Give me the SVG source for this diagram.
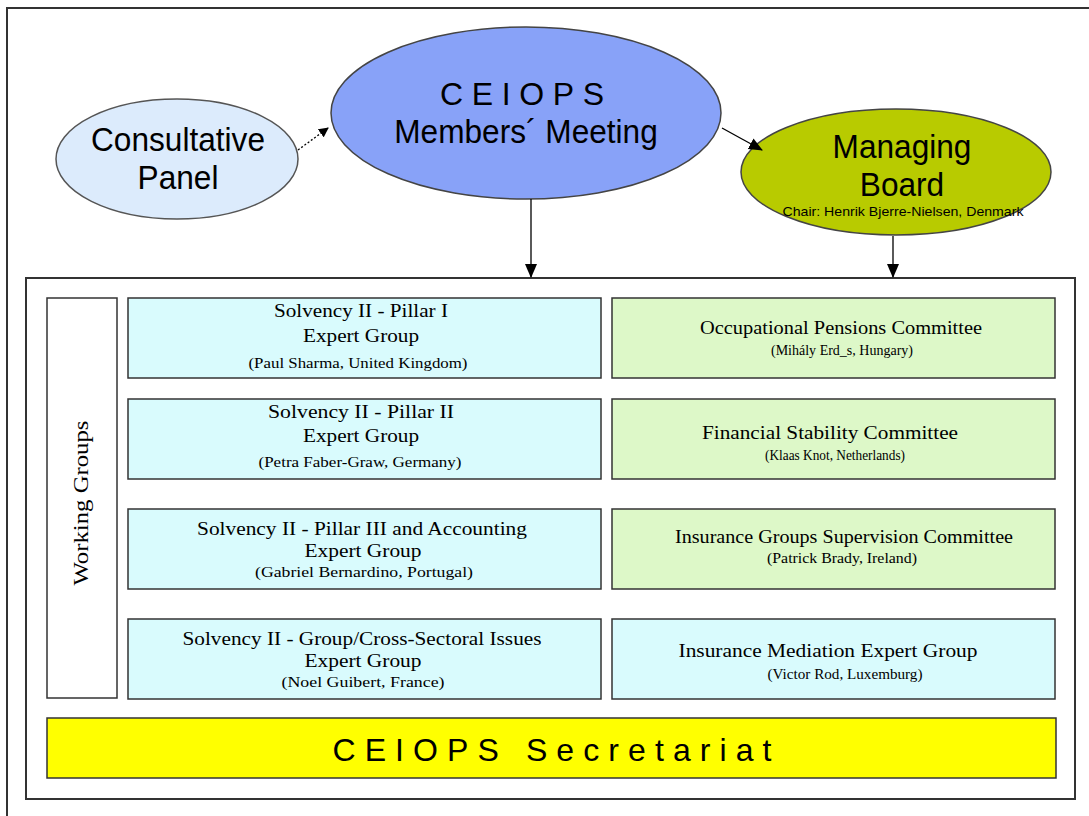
<svg xmlns="http://www.w3.org/2000/svg" width="1089" height="816" viewBox="0 0 1089 816">
<style>
.frame{fill:none;stroke:#333;stroke-width:2}
.box{stroke:#333;stroke-width:1.5}
.blue{fill:#d9fbfd}
.green{fill:#ddf8c8}
.sans{font-family:"Liberation Sans",Arial,sans-serif;fill:#000}
.serif{font-family:"Liberation Serif","Times New Roman",serif;fill:#000;text-anchor:middle}
.t1{font-size:19px}
.t2{font-size:15px}
.conn{stroke:#000;stroke-width:1.3;fill:none}
</style>
<defs>
<marker id="ah" markerWidth="10" markerHeight="10" refX="9" refY="5" orient="auto" markerUnits="userSpaceOnUse">
<path d="M0,0 L10,5 L0,10 z" fill="#000"/>
</marker>
<marker id="ah2" markerWidth="14" markerHeight="14" refX="13" refY="7" orient="auto" markerUnits="userSpaceOnUse">
<path d="M0,1 L14,7 L0,13 z" fill="#000"/>
</marker>
</defs>
<rect width="1089" height="816" fill="#fff"/>
<path class="frame" d="M7,818 V8 H1091"/>
<rect class="frame" x="26" y="278" width="1049" height="521"/>

<g id="consultative">
<ellipse cx="177" cy="159" rx="121" ry="60" fill="#dcebfc" stroke="#555" stroke-width="1.5"/>
<text class="sans" x="178" y="151" font-size="34" text-anchor="middle" transform="translate(178 0) scale(0.93 1) translate(-178 0)">Consultative</text>
<text class="sans" x="178" y="189" font-size="34" text-anchor="middle" transform="translate(178 0) scale(0.93 1) translate(-178 0)">Panel</text>
</g>

<g id="members">
<ellipse cx="526" cy="113" rx="195" ry="86" fill="#88a2f8" stroke="#444" stroke-width="1.5"/>
<text class="sans" x="522" y="105" font-size="32" text-anchor="middle" textLength="164" lengthAdjust="spacing">CEIOPS</text>
<text class="sans" x="526" y="143" font-size="34" text-anchor="middle" transform="translate(526 0) scale(0.93 1) translate(-526 0)">Members´ Meeting</text>
</g>

<g id="managing">
<ellipse cx="896" cy="172" rx="155" ry="63" fill="#b8cb00" stroke="#444" stroke-width="1.5"/>
<text class="sans" x="902" y="158" font-size="34" text-anchor="middle" transform="translate(902 0) scale(0.93 1) translate(-902 0)">Managing</text>
<text class="sans" x="902" y="196" font-size="34" text-anchor="middle" transform="translate(902 0) scale(0.93 1) translate(-902 0)">Board</text>
<text class="sans" x="903" y="216" font-size="13" text-anchor="middle" textLength="241" lengthAdjust="spacingAndGlyphs">Chair: Henrik Bjerre-Nielsen, Denmark</text>
</g>

<g id="connectors">
<line class="conn" x1="298" y1="150" x2="328" y2="128" stroke-dasharray="2,2" stroke="#777" marker-end="url(#ah)"/>
<line class="conn" x1="722" y1="128" x2="762" y2="150" marker-end="url(#ah2)"/>
<line class="conn" x1="531" y1="199" x2="531" y2="277" marker-end="url(#ah2)"/>
<line class="conn" x1="893" y1="236" x2="893" y2="277" marker-end="url(#ah2)"/>
</g>

<g id="working-groups">
<rect class="box" x="47" y="298" width="70" height="400" fill="#fff"/>
<text class="serif" font-size="21" transform="translate(88 503) rotate(-90)" textLength="165" lengthAdjust="spacingAndGlyphs">Working Groups</text>
</g>

<g id="pillar1">
<rect class="box blue" x="128" y="298" width="473" height="80"/>
<text class="serif t1" x="361" y="317" textLength="174" lengthAdjust="spacingAndGlyphs">Solvency II - Pillar I</text>
<text class="serif t1" x="361" y="342" textLength="116" lengthAdjust="spacingAndGlyphs">Expert Group</text>
<text class="serif t2" x="358" y="368" textLength="219" lengthAdjust="spacingAndGlyphs">(Paul Sharma, United Kingdom)</text>
</g>
<g id="pillar2">
<rect class="box blue" x="128" y="399" width="473" height="80"/>
<text class="serif t1" x="361" y="418" textLength="186" lengthAdjust="spacingAndGlyphs">Solvency II - Pillar II</text>
<text class="serif t1" x="361" y="442" textLength="116" lengthAdjust="spacingAndGlyphs">Expert Group</text>
<text class="serif t2" x="360" y="467" textLength="203" lengthAdjust="spacingAndGlyphs">(Petra Faber-Graw, Germany)</text>
</g>
<g id="pillar3">
<rect class="box blue" x="128" y="509" width="473" height="80"/>
<text class="serif t1" x="362" y="535" textLength="330" lengthAdjust="spacingAndGlyphs">Solvency II - Pillar III and Accounting</text>
<text class="serif t1" x="363" y="557" textLength="117" lengthAdjust="spacingAndGlyphs">Expert Group</text>
<text class="serif t2" x="364" y="577" textLength="218" lengthAdjust="spacingAndGlyphs">(Gabriel Bernardino, Portugal)</text>
</g>
<g id="group-cross">
<rect class="box blue" x="128" y="619" width="473" height="80"/>
<text class="serif t1" x="362" y="645" textLength="359" lengthAdjust="spacingAndGlyphs">Solvency II - Group/Cross-Sectoral Issues</text>
<text class="serif t1" x="363" y="667" textLength="117" lengthAdjust="spacingAndGlyphs">Expert Group</text>
<text class="serif t2" x="363" y="687" textLength="163" lengthAdjust="spacingAndGlyphs">(Noel Guibert, France)</text>
</g>

<g id="pensions">
<rect class="box green" x="612" y="298" width="443" height="80"/>
<text class="serif t1" x="841" y="334" textLength="282" lengthAdjust="spacingAndGlyphs">Occupational  Pensions Committee</text>
<text class="serif t2" x="842" y="355" textLength="142" lengthAdjust="spacingAndGlyphs">(Mihály Erd_s, Hungary)</text>
</g>
<g id="stability">
<rect class="box green" x="612" y="399" width="443" height="80"/>
<text class="serif t1" x="830" y="439" textLength="256" lengthAdjust="spacingAndGlyphs">Financial Stability Committee</text>
<text class="serif t2" x="835" y="460" textLength="140" lengthAdjust="spacingAndGlyphs">(Klaas Knot, Netherlands)</text>
</g>
<g id="groups-supervision">
<rect class="box green" x="612" y="509" width="443" height="80"/>
<text class="serif t1" x="844" y="543" textLength="338" lengthAdjust="spacingAndGlyphs">Insurance Groups Supervision Committee</text>
<text class="serif t2" x="842" y="563" textLength="150" lengthAdjust="spacingAndGlyphs">(Patrick Brady, Ireland)</text>
</g>
<g id="mediation">
<rect class="box blue" x="612" y="619" width="443" height="80"/>
<text class="serif t1" x="828" y="657" textLength="299" lengthAdjust="spacingAndGlyphs">Insurance Mediation Expert Group</text>
<text class="serif t2" x="845" y="679" textLength="155" lengthAdjust="spacingAndGlyphs">(Victor Rod, Luxemburg)</text>
</g>

<g id="secretariat">
<rect x="47" y="718" width="1009" height="60" fill="#ffff00" stroke="#333" stroke-width="1.5"/>
<text class="sans" x="552" y="761" font-size="32" text-anchor="middle" textLength="439" lengthAdjust="spacing">CEIOPS Secretariat</text>
</g>
</svg>
